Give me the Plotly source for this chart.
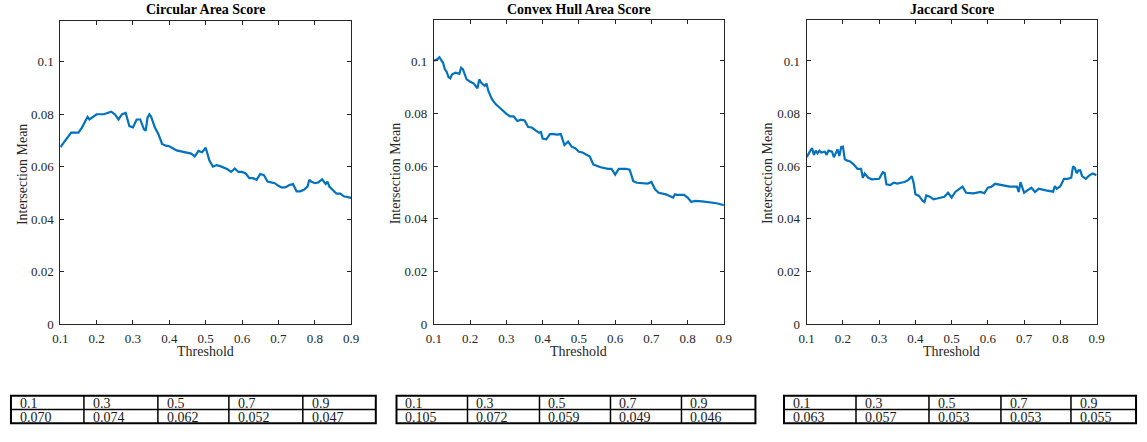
import plotly.graph_objects as go

# Threshold sweep and intersection-mean curves for the three scores
circ_x = [0.10, 0.11, 0.12, 0.13, 0.14, 0.15, 0.16, 0.17, 0.175, 0.18, 0.19, 0.20, 0.22, 0.24, 0.25,
          0.26, 0.27, 0.28, 0.29, 0.30, 0.31, 0.32, 0.33, 0.335, 0.34, 0.345, 0.35, 0.36, 0.37, 0.38,
          0.39, 0.40, 0.42, 0.44, 0.46, 0.47, 0.48, 0.49, 0.50, 0.51, 0.52, 0.53, 0.54, 0.56, 0.57,
          0.58, 0.59, 0.60, 0.61, 0.62, 0.63, 0.64, 0.65, 0.66, 0.67, 0.68, 0.69, 0.70, 0.71, 0.72,
          0.73, 0.74, 0.75, 0.76, 0.77, 0.78, 0.785, 0.79, 0.80, 0.81, 0.82, 0.83, 0.835, 0.84, 0.85,
          0.86, 0.87, 0.88, 0.90]
circ_y = [0.0674, 0.0693, 0.0710, 0.0730, 0.0730, 0.0730, 0.0750, 0.0777, 0.0790, 0.0780, 0.0790, 0.0800,
          0.0800, 0.0810, 0.0800, 0.0780, 0.0800, 0.0805, 0.0755, 0.0750, 0.0780, 0.0780, 0.0743, 0.0737,
          0.0787, 0.0800, 0.0790, 0.0750, 0.0724, 0.0687, 0.0680, 0.0678, 0.0662, 0.0655, 0.0650, 0.0639,
          0.0660, 0.0655, 0.0672, 0.0624, 0.0600, 0.0606, 0.0602, 0.0590, 0.0580, 0.0593, 0.0580, 0.0580,
          0.0574, 0.0556, 0.0556, 0.0550, 0.0572, 0.0568, 0.0543, 0.0540, 0.0537, 0.0527, 0.0520, 0.0522,
          0.0530, 0.0534, 0.0506, 0.0506, 0.0512, 0.0524, 0.0550, 0.0543, 0.0537, 0.0540, 0.0552, 0.0534,
          0.0543, 0.0524, 0.0512, 0.0497, 0.0497, 0.0487, 0.0481]

hull_x = [0.10, 0.11, 0.115, 0.12, 0.125, 0.13, 0.135, 0.14, 0.145, 0.15, 0.16, 0.17, 0.175, 0.18, 0.19,
          0.20, 0.21, 0.22, 0.225, 0.23, 0.24, 0.245, 0.25, 0.26, 0.27, 0.28, 0.29, 0.30, 0.31, 0.32,
          0.33, 0.34, 0.35, 0.36, 0.37, 0.38, 0.39, 0.395, 0.40, 0.41, 0.42, 0.43, 0.44, 0.45, 0.46,
          0.47, 0.48, 0.49, 0.50, 0.51, 0.52, 0.53, 0.54, 0.55, 0.56, 0.58, 0.59, 0.60, 0.61, 0.62,
          0.63, 0.64, 0.65, 0.66, 0.68, 0.69, 0.70, 0.71, 0.72, 0.74, 0.75, 0.76, 0.765, 0.77, 0.79,
          0.80, 0.81, 0.82, 0.84, 0.86, 0.88, 0.90]
hull_y = [0.1001, 0.1007, 0.1014, 0.1005, 0.0993, 0.0968, 0.0959, 0.0939, 0.0934, 0.0949, 0.0955, 0.0951,
          0.0974, 0.0968, 0.0930, 0.0921, 0.0914, 0.0896, 0.0930, 0.0918, 0.0905, 0.0914, 0.0886, 0.0855,
          0.0836, 0.0824, 0.0811, 0.0799, 0.0789, 0.0789, 0.0772, 0.0777, 0.0774, 0.0749, 0.0747, 0.0737,
          0.0727, 0.0730, 0.0705, 0.0702, 0.0722, 0.0722, 0.0720, 0.0722, 0.0680, 0.0693, 0.0674, 0.0668,
          0.0655, 0.0652, 0.0643, 0.0637, 0.0606, 0.0600, 0.0596, 0.0590, 0.0590, 0.0568, 0.0590, 0.0590,
          0.0590, 0.0587, 0.0543, 0.0537, 0.0534, 0.0534, 0.0540, 0.0512, 0.0499, 0.0493, 0.0487, 0.0481,
          0.0493, 0.0491, 0.0491, 0.0481, 0.0464, 0.0468, 0.0466, 0.0462, 0.0459, 0.0452]

jac_x = [0.10, 0.105, 0.11, 0.115, 0.12, 0.125, 0.13, 0.135, 0.14, 0.15, 0.155, 0.16, 0.17, 0.175, 0.18,
         0.185, 0.19, 0.195, 0.20, 0.205, 0.21, 0.22, 0.23, 0.24, 0.25, 0.255, 0.26, 0.27, 0.28, 0.29,
         0.30, 0.31, 0.315, 0.32, 0.33, 0.34, 0.35, 0.36, 0.37, 0.38, 0.39, 0.395, 0.40, 0.41, 0.42,
         0.425, 0.43, 0.44, 0.45, 0.46, 0.47, 0.48, 0.49, 0.50, 0.51, 0.52, 0.53, 0.54, 0.56, 0.58,
         0.59, 0.60, 0.61, 0.62, 0.64, 0.66, 0.68, 0.685, 0.69, 0.70, 0.71, 0.72, 0.73, 0.74, 0.76,
         0.78, 0.785, 0.79, 0.80, 0.81, 0.82, 0.83, 0.835, 0.84, 0.845, 0.85, 0.855, 0.86, 0.87, 0.88,
         0.89, 0.90]
jac_y = [0.0634, 0.0649, 0.0659, 0.0668, 0.0643, 0.0659, 0.0649, 0.0659, 0.0652, 0.0655, 0.0643, 0.0659,
         0.0655, 0.0634, 0.0649, 0.0664, 0.0639, 0.0672, 0.0674, 0.0627, 0.0622, 0.0618, 0.0606, 0.0590,
         0.0590, 0.0556, 0.0572, 0.0556, 0.0550, 0.0550, 0.0552, 0.0577, 0.0574, 0.0531, 0.0528, 0.0537,
         0.0534, 0.0537, 0.0540, 0.0547, 0.0562, 0.0537, 0.0493, 0.0487, 0.0468, 0.0464, 0.0489, 0.0484,
         0.0474, 0.0477, 0.0481, 0.0484, 0.0499, 0.0481, 0.0502, 0.0512, 0.0522, 0.0499, 0.0497, 0.0502,
         0.0497, 0.0518, 0.0522, 0.0533, 0.0527, 0.0522, 0.0522, 0.0502, 0.0539, 0.0499, 0.0509, 0.0518,
         0.0502, 0.0514, 0.0508, 0.0503, 0.0524, 0.0514, 0.0524, 0.0552, 0.0552, 0.0556, 0.0599, 0.0593,
         0.0574, 0.0584, 0.0584, 0.0562, 0.0552, 0.0565, 0.0572, 0.0565]

titles = ["Circular Area Score", "Convex Hull Area Score", "Jaccard Score"]
x_label = "Threshold"
y_label = "Intersection Mean"
x_ticks = [0.1, 0.2, 0.3, 0.4, 0.5, 0.6, 0.7, 0.8, 0.9]
x_tick_text = ["0.1", "0.2", "0.3", "0.4", "0.5", "0.6", "0.7", "0.8", "0.9"]
y_ticks = [0, 0.02, 0.04, 0.06, 0.08, 0.1]
y_tick_text = ["0", "0.02", "0.04", "0.06", "0.08", "0.1"]

# Summary tables: threshold row and mean row for each score
table_thresholds = ["0.1", "0.3", "0.5", "0.7", "0.9"]
circ_table = ["0.070", "0.074", "0.062", "0.052", "0.047"]
hull_table = ["0.105", "0.072", "0.059", "0.049", "0.046"]
jac_table = ["0.063", "0.057", "0.053", "0.053", "0.055"]

W, H = 1147, 442
FONT = "Liberation Serif"
INK = "#262626"
BLUE = "#0072BD"


def px(x):
    return x / W


def py(y):
    return (H - y) / H


# Axes boxes in pixels: (left, right, top, bottom)
boxes = [(53, 348, 21, 330), (432, 726, 20, 330), (810, 1104, 20, 330)]
series = [(circ_x, circ_y), (hull_x, hull_y), (jac_x, jac_y)]

fig = go.Figure()
annotations = []
shapes = []

for i, ((xs, ys), (l, r, t, b), title) in enumerate(zip(series, boxes, titles)):
    sfx = "" if i == 0 else str(i + 1)
    fig.add_trace(go.Scatter(x=xs, y=ys, mode="lines", xaxis="x" + sfx, yaxis="y" + sfx,
                             line=dict(color=BLUE, width=2.2), showlegend=False, hoverinfo="skip"))
    common = dict(showline=True, linecolor=INK, linewidth=1, mirror="allticks", ticks="inside",
                  ticklen=4, tickcolor=INK, tickwidth=1, showgrid=False, zeroline=False,
                  tickfont=dict(family=FONT, size=13, color=INK))
    fig.update_layout(**{
        "xaxis" + sfx: dict(domain=[px(l), px(r)], range=[0.1, 0.9], anchor="y" + sfx,
                            tickvals=x_ticks, ticktext=x_tick_text, ticklabelstandoff=2, **common),
        "yaxis" + sfx: dict(domain=[py(b), py(t)], range=[0, 0.1157], anchor="x" + sfx,
                            tickvals=y_ticks, ticktext=y_tick_text, ticklabelstandoff=3, **common),
    })
    cx = (l + r) / 2
    annotations.append(dict(text="<b>" + title + "</b>", x=px(cx), y=py(10), xref="paper", yref="paper",
                            showarrow=False, font=dict(family=FONT, size=14, color="black"),
                            xanchor="center", yanchor="middle"))
    annotations.append(dict(text=x_label, x=px(cx), y=py(358), xref="paper", yref="paper",
                            showarrow=False, font=dict(family=FONT, size=14, color=INK),
                            xanchor="center", yanchor="middle"))
    annotations.append(dict(text=y_label, x=px(l - 39), y=py((t + b) / 2 + 2), xref="paper", yref="paper",
                            showarrow=False, textangle=-90, font=dict(family=FONT, size=14, color=INK),
                            xanchor="center", yanchor="middle"))

# Table geometry in pixels: column edges, top, middle, bottom
table_cols = [
    [3, 77, 152, 224, 299, 373],
    [394, 466, 539, 611, 683, 758],
    [787, 860, 934, 1007, 1078, 1144],
]
table_rows = [403, 417, 431]
table_values = [circ_table, hull_table, jac_table]

for cols, vals in zip(table_cols, table_values):
    # outer frame
    shapes.append(dict(type="rect", xref="paper", yref="paper", x0=px(cols[0]), x1=px(cols[-1]),
                       y0=py(table_rows[2]), y1=py(table_rows[0]), line=dict(color="black", width=2)))
    shapes.append(dict(type="line", xref="paper", yref="paper", x0=px(cols[0]), x1=px(cols[-1]),
                       y0=py(table_rows[1]), y1=py(table_rows[1]), line=dict(color="black", width=1.5)))
    for c in cols[1:-1]:
        shapes.append(dict(type="line", xref="paper", yref="paper", x0=px(c), x1=px(c),
                           y0=py(table_rows[2]), y1=py(table_rows[0]), line=dict(color="black", width=1.5)))
    for j in range(5):
        for row_text, yc in ((table_thresholds[j], (table_rows[0] + table_rows[1]) / 2),
                             (vals[j], (table_rows[1] + table_rows[2]) / 2)):
            annotations.append(dict(text=row_text, x=px(cols[j] + 8), y=py(yc + 1), xref="paper",
                                    yref="paper", showarrow=False, xanchor="left", yanchor="middle",
                                    borderpad=0, font=dict(family=FONT, size=14, color="#1a1a1a")))

fig.update_layout(width=W, height=H, margin=dict(l=0, r=0, t=0, b=0), plot_bgcolor="white",
                  paper_bgcolor="white", annotations=annotations, shapes=shapes)

fig.write_html("out.html")
